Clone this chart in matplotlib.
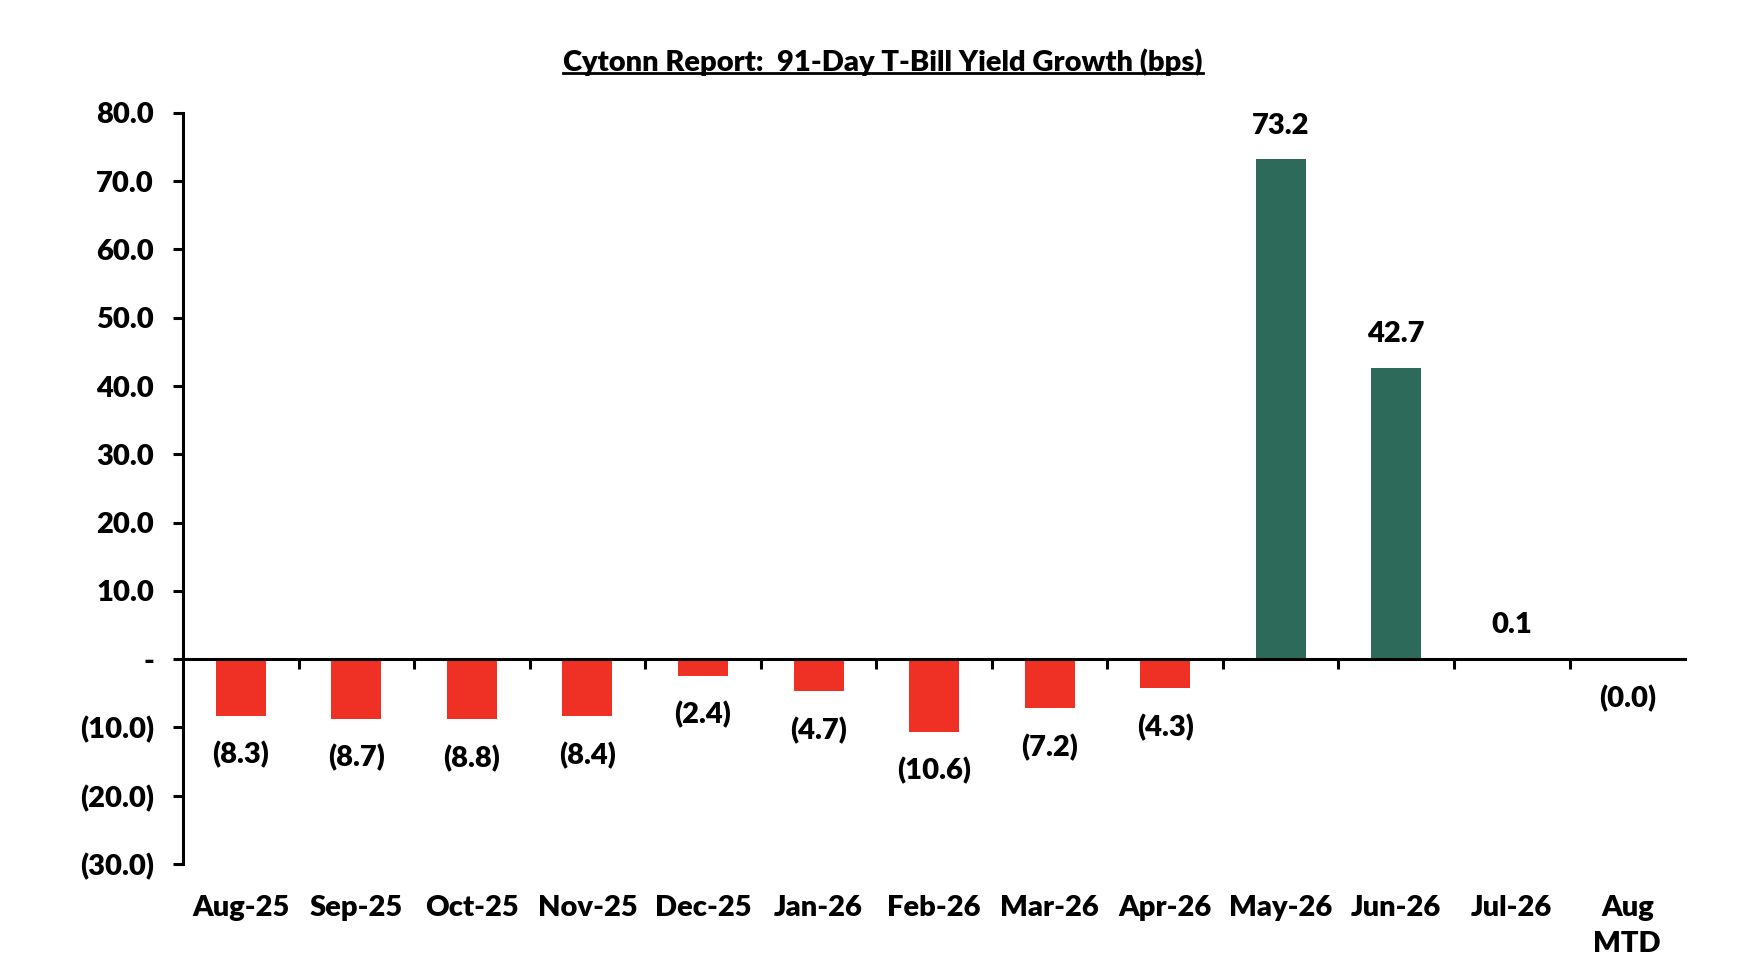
import numpy as np
import matplotlib.pyplot as plt
from matplotlib.lines import Line2D

months = ['Aug-25', 'Sep-25', 'Oct-25', 'Nov-25', 'Dec-25', 'Jan-26', 'Feb-26',
          'Mar-26', 'Apr-26', 'May-26', 'Jun-26', 'Jul-26', 'Aug\nMTD']
growth_bps = [-8.3, -8.7, -8.8, -8.4, -2.4, -4.7, -10.6, -7.2, -4.3, 73.2, 42.7, 0.1, -0.01]
y_ticks = [-30, -20, -10, 0, 10, 20, 30, 40, 50, 60, 70, 80]

red = '#EE3124'
green = '#2D6A5A'
W = 'heavy'

plt.rcParams['font.family'] = ['Lato', 'DejaVu Sans']
plt.rcParams['font.weight'] = W


def fmt(v):
    if v == 0:
        return '-'
    if v < 0:
        return '(%.1f)' % abs(v)
    return '%.1f' % v


fig = plt.figure(figsize=(17.52, 9.76), dpi=100)
ax = fig.add_axes([0.1045, 0.1148, 0.8573, 0.7695])

x = np.arange(len(months))
vals = np.array(growth_bps)
colors = [green if v > 0 else red for v in vals]
ax.bar(x, vals, width=0.433, color=colors, zorder=2)

ax.set_xlim(-0.5, len(months) - 0.5)
ax.set_ylim(-30, 80)
ax.set_yticks(y_ticks)
ax.set_yticklabels([fmt(t) for t in y_ticks], fontweight=W)

for s in ['top', 'right']:
    ax.spines[s].set_visible(False)
ax.spines['bottom'].set_position(('data', 0))
ax.spines['bottom'].set_zorder(3)
for s in ['left', 'bottom']:
    ax.spines[s].set_linewidth(2.2)

ax.set_xticks(x[:-1] + 0.5)
ax.set_xticklabels([])
ax.tick_params(axis='x', direction='out', length=7, width=2.2)
ax.tick_params(axis='y', direction='out', length=7, width=2.2, pad=14, labelsize=21)

# category labels at the bottom of the plot
for i, m in enumerate(months):
    ax.annotate(m, xy=(i, 0), xycoords=ax.get_xaxis_transform(),
                xytext=(0, -22), textcoords='offset points',
                ha='center', va='top', fontsize=21, fontweight=W, linespacing=1.5)

# value labels
for i, v in enumerate(vals):
    off = 24 if v > 0 else -28
    ax.annotate(fmt(v), xy=(i, v), xytext=(0, off), textcoords='offset points',
                ha='center', va='center', fontsize=21, fontweight=W)

title = fig.text(0.504, 0.936, 'Cytonn Report:  91-Day T-Bill Yield Growth (bps)',
                 ha='center', va='center', fontsize=21, fontweight=W)

# underline the title
fig.canvas.draw()
bb = title.get_window_extent()
inv = fig.transFigure.inverted()
(x0, y0), (x1, _) = inv.transform([(bb.x0, bb.y0 + 3), (bb.x1, bb.y0)])
fig.add_artist(Line2D([x0, x1], [y0, y0], transform=fig.transFigure, color='black', lw=2))

fig.savefig('out.png', dpi=100)
